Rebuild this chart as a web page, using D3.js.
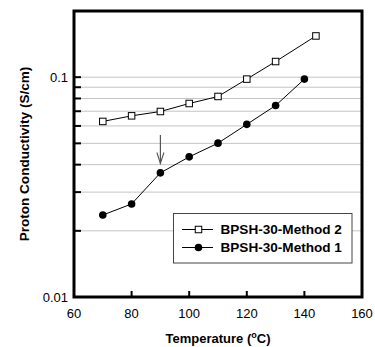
<!DOCTYPE html>
<html><head><meta charset="utf-8">
<script src="https://cdn.jsdelivr.net/npm/d3@7/dist/d3.min.js"></script>
<style>body{margin:0;background:#fff}svg{display:block}</style>
</head><body><svg id="c" width="375" height="347"></svg>
<script>
const temps2 = [70, 80, 90, 100, 110, 120, 130, 144];
const method2 = [0.0629, 0.0667, 0.0698, 0.0759, 0.0817, 0.098, 0.1178, 0.154];
const temps1 = [70, 80, 90, 100, 110, 120, 130, 140];
const method1 = [0.0236, 0.0265, 0.0367, 0.0434, 0.0501, 0.061, 0.0743, 0.098];
const xTicks = [60, 80, 100, 120, 140, 160];
const yGrid = [0.02, 0.03, 0.04, 0.05, 0.06, 0.07, 0.08, 0.09, 0.1];
const yLabels = [0.01, 0.1];
const arrowAt = {t: 90, from: 0.0545, to: 0.0405};
const seriesNames = ["BPSH-30-Method 2", "BPSH-30-Method 1"];

const svg = d3.select("#c");
const L = 74, R = 362, T = 11, B = 297;
const x = d3.scaleLinear().domain([60, 160]).range([L, R]);
const y = d3.scaleLog().domain([0.01, 0.2]).range([B, T]);
const font = "Liberation Sans, Arial, sans-serif";

function fitGroup(g, textSel, target) {
  const w = textSel.node().getComputedTextLength();
  if (w > 0) textSel.attr("transform", `scale(${target / w},1)`);
}

// gridlines
svg.append("g").selectAll("line").data(yGrid).join("line")
  .attr("x1", L).attr("x2", R).attr("y1", d => y(d)).attr("y2", d => y(d))
  .attr("stroke", "#c4c4c4").attr("stroke-width", 1);

// y ticks (inward)
svg.append("g").selectAll("line").data(yGrid).join("line")
  .attr("x1", L).attr("x2", L + 7).attr("y1", d => y(d)).attr("y2", d => y(d))
  .attr("stroke", "#000").attr("stroke-width", 2);
// x ticks (inward)
svg.append("g").selectAll("line").data(xTicks.slice(1, -1)).join("line")
  .attr("x1", d => x(d)).attr("x2", d => x(d)).attr("y1", B).attr("y2", B - 6)
  .attr("stroke", "#000").attr("stroke-width", 2);

// frame
svg.append("rect").attr("x", L).attr("y", T).attr("width", R - L).attr("height", B - T)
  .attr("fill", "none").attr("stroke", "#000").attr("stroke-width", 3);

// tick labels
svg.append("g").selectAll("text").data(yLabels).join("text")
  .attr("x", L - 6).attr("y", d => y(d)).attr("dy", "0.35em").attr("text-anchor", "end")
  .attr("font-family", font).attr("font-size", 13).text(d => String(d));
svg.append("g").selectAll("text").data(xTicks).join("text")
  .attr("x", d => x(d)).attr("y", 313).attr("dy", "0.35em").attr("text-anchor", "middle")
  .attr("font-family", font).attr("font-size", 13).text(d => d);

// axis titles
const xt = svg.append("text").attr("x", (L + R) / 2).attr("y", 342.5)
  .attr("text-anchor", "middle").attr("font-family", font).attr("font-size", 13).attr("font-weight", "bold");
xt.append("tspan").text("Temperature (");
xt.append("tspan").attr("font-size", 9).attr("dy", -5).text("o");
xt.append("tspan").attr("dy", 5).text("C)");

const yg = svg.append("g").attr("transform", `translate(24,${(T + B) / 2}) rotate(-90)`);
const ytt = yg.append("text")
  .attr("dy", "0.35em").attr("text-anchor", "middle").attr("font-family", font)
  .attr("font-size", 13.5).attr("font-weight", "bold")
  .text("Proton Conductivity (S/cm)");
fitGroup(yg, ytt, 175);

// lines
const d2 = temps2.map((t, i) => [t, method2[i]]);
const d1 = temps1.map((t, i) => [t, method1[i]]);
const line = d3.line().x(d => x(d[0])).y(d => y(d[1]));
svg.append("path").datum(d2).attr("d", line).attr("fill", "none").attr("stroke", "#000").attr("stroke-width", 1);
svg.append("path").datum(d1).attr("d", line).attr("fill", "none").attr("stroke", "#000").attr("stroke-width", 1);
const s = 6.5;
svg.append("g").selectAll("rect").data(d2).join("rect")
  .attr("x", d => x(d[0]) - s / 2).attr("y", d => y(d[1]) - s / 2).attr("width", s).attr("height", s)
  .attr("fill", "#fff").attr("stroke", "#000").attr("stroke-width", 1);
svg.append("g").selectAll("circle").data(d1).join("circle")
  .attr("cx", d => x(d[0])).attr("cy", d => y(d[1])).attr("r", 3.8).attr("fill", "#000");

// arrow
const ax = x(arrowAt.t), ay1 = y(arrowAt.from), ay2 = y(arrowAt.to);
svg.append("line").attr("x1", ax).attr("x2", ax).attr("y1", ay1).attr("y2", ay2)
  .attr("stroke", "#555").attr("stroke-width", 1.2);
svg.append("path").attr("d", `M${ax - 3.5},${ay2 - 11} L${ax},${ay2} L${ax + 3.5},${ay2 - 11}`)
  .attr("fill", "none").attr("stroke", "#555").attr("stroke-width", 1.1);

// legend
const lg = svg.append("g");
lg.append("rect").attr("x", 173.5).attr("y", 213.5).attr("width", 178.5).attr("height", 49.5)
  .attr("fill", "#fff").attr("stroke", "#444").attr("stroke-width", 1);
const rows = [229.5, 247.5];
rows.forEach((ry, i) => {
  lg.append("line").attr("x1", 182).attr("x2", 213).attr("y1", ry).attr("y2", ry)
    .attr("stroke", "#000").attr("stroke-width", 1);
  if (i === 0) lg.append("rect").attr("x", 198.5 - s / 2).attr("y", ry - s / 2).attr("width", s).attr("height", s)
    .attr("fill", "#fff").attr("stroke", "#000");
  else lg.append("circle").attr("cx", 198.5).attr("cy", ry).attr("r", 3.8).attr("fill", "#000");
  const tg = lg.append("g").attr("transform", `translate(220.5,${ry})`);
  const tt = tg.append("text").attr("dy", "0.35em").attr("font-family", font)
    .attr("font-size", 13).attr("font-weight", "bold").text(seriesNames[i]);
  fitGroup(tg, tt, 121.5);
});
</script></body></html>
